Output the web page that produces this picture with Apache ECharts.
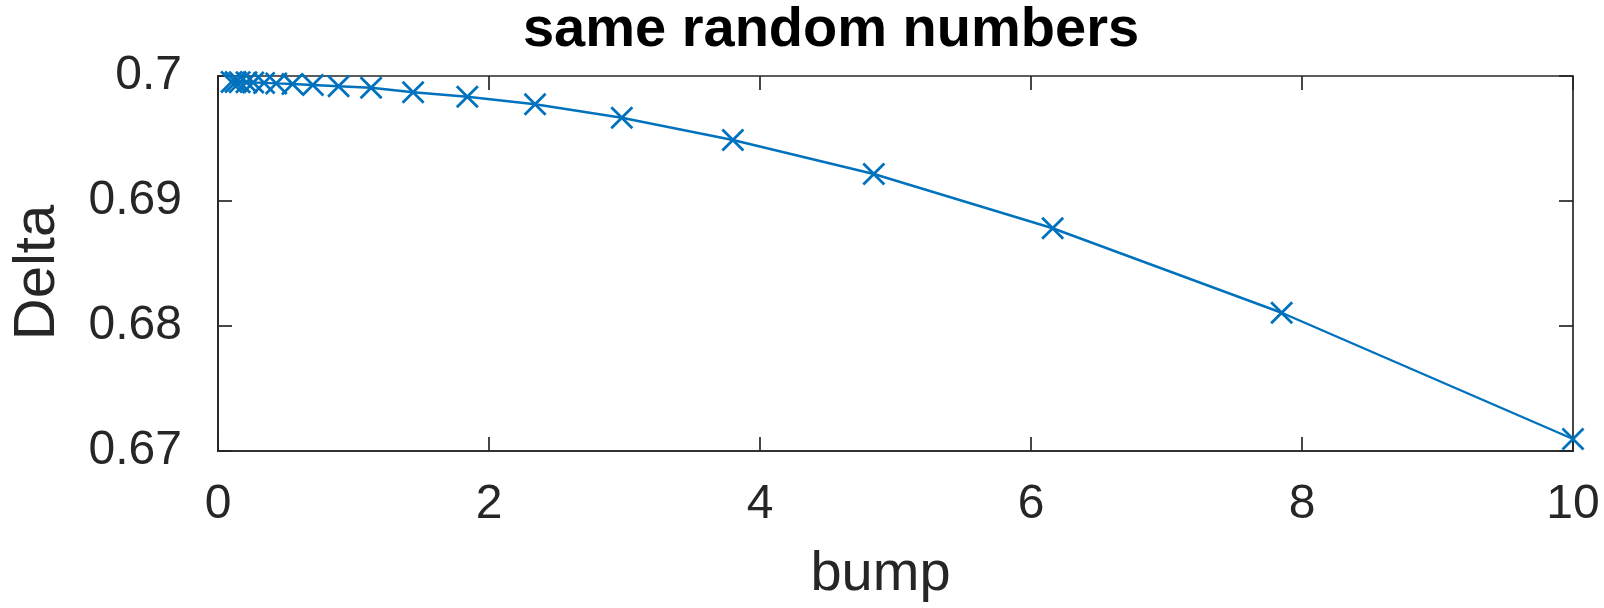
<!DOCTYPE html>
<html>
<head>
<meta charset="utf-8">
<script src="https://cdn.jsdelivr.net/npm/echarts@6/dist/echarts.min.js"></script>
<style>html,body{margin:0;padding:0;background:#fff;}#c{width:1604px;height:608px;}</style>
</head>
<body>
<div id="c"></div>
<script>
const titleText = 'same random numbers';
const xName = 'bump';
const yName = 'Delta';
const bump = [0.10, 0.13, 0.16, 0.21, 0.26, 0.34, 0.43, 0.55, 0.70, 0.89, 1.13, 1.44, 1.84, 2.34, 2.98, 3.80, 4.84, 6.16, 7.85, 10.0];
const delta = [0.69953, 0.69952, 0.69951, 0.69950, 0.69948, 0.69945, 0.69941, 0.69936, 0.69928, 0.69918, 0.69906, 0.69870, 0.69834, 0.69774, 0.69666, 0.69488, 0.69216, 0.68782, 0.68106, 0.67096];
const xTicks = [0, 2, 4, 6, 8, 10];
const yTicks = [0.67, 0.68, 0.69, 0.7];

const points = bump.map((b, i) => [b, delta[i]]);
const axisCol = '#262626';
const font = 'Liberation Sans, Arial, Helvetica, sans-serif';
const xMark = 'path://M0,8.5L8.5,0L50,41.5L91.5,0L100,8.5L58.5,50L100,91.5L91.5,100L50,58.5L8.5,100L0,91.5L41.5,50Z';

const chart = echarts.init(document.getElementById('c'), null, {renderer: 'canvas'});
const lineSt = {color: axisCol, width: 1.7};
const xRange = {type: 'value', min: xTicks[0], max: xTicks[xTicks.length - 1], interval: 2};
const yRange = {type: 'value', min: yTicks[0], max: yTicks[yTicks.length - 1], interval: 0.01};
function tickAxis(range, pos, len) {
  return Object.assign({}, range, {
    position: pos,
    axisLine: {show: true, onZero: false, lineStyle: lineSt},
    axisTick: {show: true, inside: true, length: len, lineStyle: lineSt},
    axisLabel: {show: false},
    splitLine: {show: false}
  });
}
chart.setOption({
  animation: false,
  backgroundColor: '#fff',
  graphic: [{
    type: 'text', x: 831, y: 3,
    style: {text: titleText, x: 0, y: 0, textAlign: 'center', textVerticalAlign: 'top',
      fontFamily: font, fontWeight: 'bold', fontSize: 56, fill: '#000'}
  }],
  grid: {left: 218, right: 31, top: 76, bottom: 157, containLabel: false},
  xAxis: [
    Object.assign({}, xRange, {
      position: 'bottom',
      axisLine: {show: true, onZero: false, lineStyle: lineSt},
      axisTick: {show: false},
      splitLine: {show: false},
      name: xName, nameLocation: 'middle', nameGap: 96,
      nameTextStyle: {fontFamily: font, fontSize: 56, color: axisCol, padding: [0, 30, 0, 0]},
      axisLabel: {show: true, margin: 30, fontFamily: font, fontSize: 48, color: axisCol}
    }),
    tickAxis(xRange, 'top', 14),
    tickAxis(xRange, 'bottom', 14)
  ],
  yAxis: [
    Object.assign({}, yRange, {
      position: 'left',
      axisLine: {show: true, onZero: false, lineStyle: lineSt},
      axisTick: {show: false},
      splitLine: {show: false},
      name: yName, nameLocation: 'middle', nameGap: 151, nameRotate: 90,
      nameTextStyle: {fontFamily: font, fontSize: 58, color: axisCol, padding: [0, 18, 0, 0]},
      axisLabel: {show: true, margin: 36, fontFamily: font, fontSize: 48, color: axisCol,
        formatter: v => String(parseFloat(v.toFixed(4)))}
    }),
    tickAxis(yRange, 'right', 14),
    tickAxis(yRange, 'left', 14)
  ],
  series: [{
    type: 'line',
    data: points,
    xAxisIndex: 0, yAxisIndex: 0,
    symbol: xMark,
    symbolSize: 23,
    showAllSymbol: true,
    clip: false,
    lineStyle: {color: '#0072BD', width: 2.4},
    itemStyle: {color: '#0072BD'},
    z: 1
  }]
});
</script>
</body>
</html>
